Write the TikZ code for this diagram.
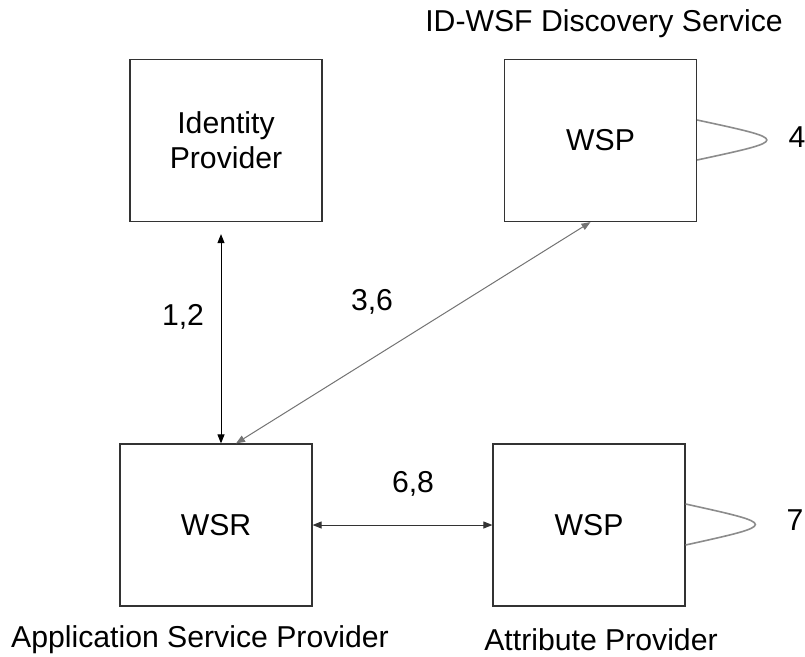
\documentclass[tikz,border=0pt]{standalone}
\usepackage{fontspec}
\setmainfont{Liberation Sans}
\usetikzlibrary{arrows.meta}
\begin{document}
\begin{tikzpicture}[x=1pt,y=-1pt,
  every node/.style={font=\fontsize{30.2}{35}\selectfont},
  entity/.style={draw=black!80,line width=1.2pt,minimum width=192pt,minimum height=162pt,inner sep=0pt,align=center},
  lbl/.style={inner sep=0pt,anchor=center},
  conn/.style={line width=1pt,{Triangle[length=9pt,width=7pt]}-{Triangle[length=9pt,width=7pt]}},
  loopline/.style={draw=black!45,line width=1.6pt}]
\useasboundingbox (0,0) rectangle (805,656);
\node[entity] (idp) at (226,140.5) {Identity\\Provider};
\node[entity] (wspd) at (600.5,140.5) {WSP};
\node[entity] (wsr) at (216,525) {WSR};
\node[entity] (wspa) at (589,525) {WSP};
\node[lbl] (tds) at (604,24) {ID-WSF Discovery Service};
\node[lbl] (tasp) at (200,640) {Application Service Provider};
\node[lbl] (tap) at (601,640) {Attribute Provider};
\node[lbl] (l12) at (183,317) {1,2};
\node[lbl] (l36) at (372,302) {3,6};
\node[lbl] (l68) at (413,484) {6,8};
\node[lbl] (l4) at (797,137) {4};
\node[lbl] (l7) at (795,520) {7};
\draw[conn,black,shorten <=12pt] ([xshift=-5pt]idp.south) -- ([xshift=-5pt]idp.south |- wsr.north);
\draw[conn,black!55] ([xshift=-10pt]wspd.south) -- ([xshift=20pt]wsr.north);
\draw[conn,black!80] (wsr.east) -- (wspa.west);
\draw[loopline] ([yshift=20.5pt]wspd.east) .. controls +(93,20) .. ([yshift=-19.5pt]wspd.east);
\draw[loopline] ([yshift=21pt]wspa.east) .. controls +(93,20.5) .. ([yshift=-20pt]wspa.east);
\end{tikzpicture}
\end{document}
